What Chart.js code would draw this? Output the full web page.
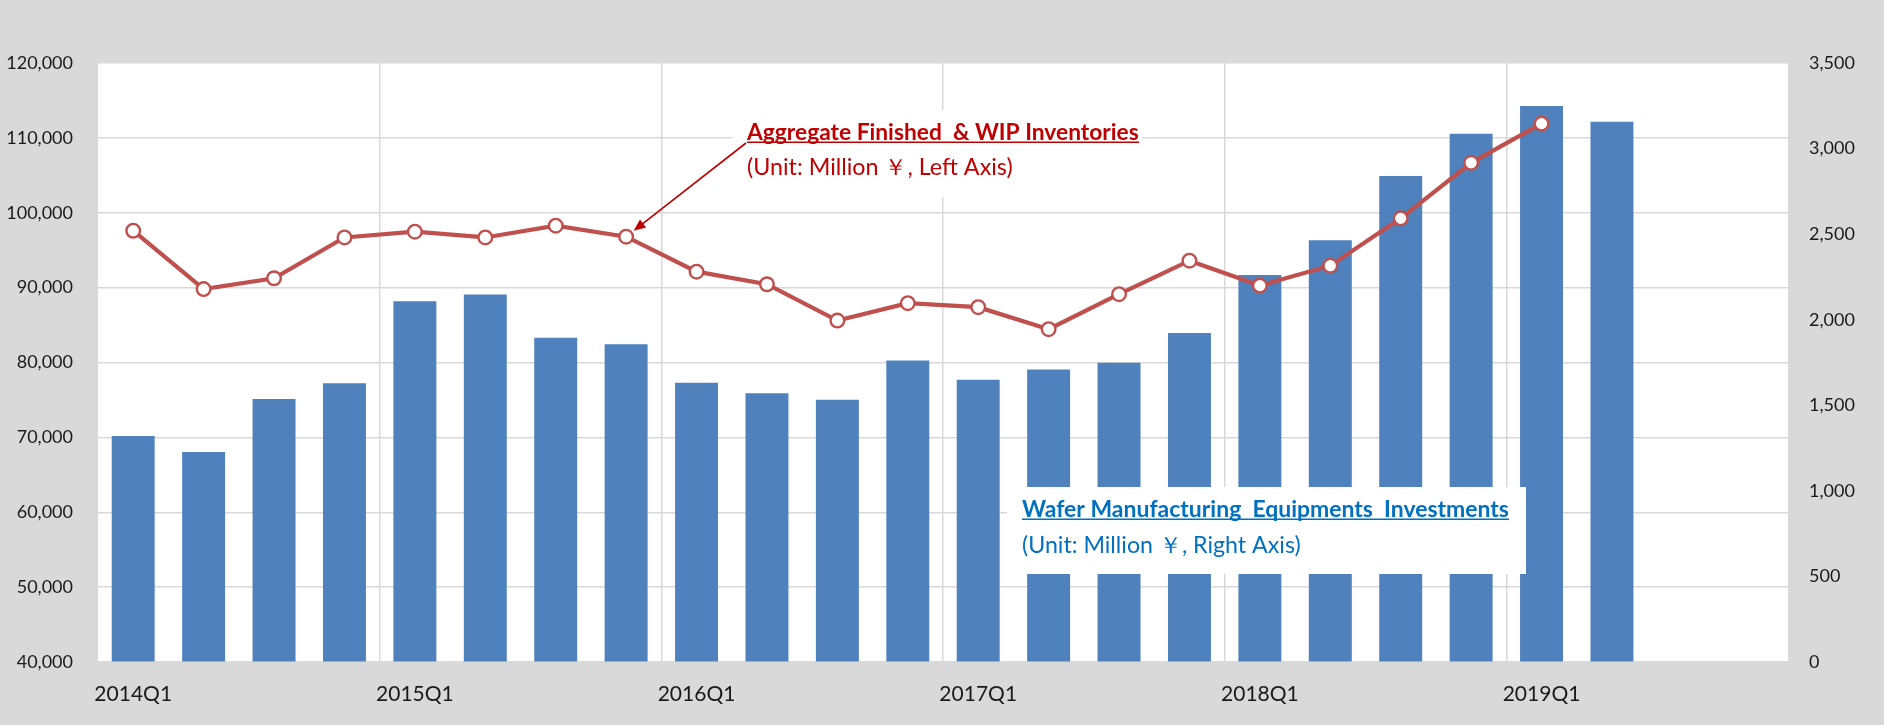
<!DOCTYPE html>
<html>
<head>
<meta charset="utf-8">
<script src="https://cdn.jsdelivr.net/npm/chart.js@4/dist/chart.umd.min.js"></script>
<style>
  html, body { margin: 0; padding: 0; background: #d9d9d9; }
  #wrap { width: 1884px; height: 725px; position: relative; }
</style>
</head>
<body>
<div id="wrap"><canvas id="c"></canvas></div>
<script>
// ---------- DATA ----------
const categories = [
  '2014Q1','2014Q2','2014Q3','2014Q4',
  '2015Q1','2015Q2','2015Q3','2015Q4',
  '2016Q1','2016Q2','2016Q3','2016Q4',
  '2017Q1','2017Q2','2017Q3','2017Q4',
  '2018Q1','2018Q2','2018Q3','2018Q4',
  '2019Q1','2019Q2','2019Q3','2019Q4'
];
// Aggregate Finished & WIP Inventories (Million ¥, left axis)
const inventories = [
  97600, 89800, 91250, 96700,
  97470, 96700, 98270, 96800,
  92130, 90450, 85600, 87920,
  87390, 84450, 89120, 93600,
  90270, 92930, 99250, 106670,
  111900, null, null, null
];
// Wafer Manufacturing Equipments Investments (Million ¥, right axis)
const investments = [
  1320, 1227, 1536, 1629,
  2108, 2147, 1894, 1857,
  1632, 1570, 1533, 1762,
  1649, 1709, 1748, 1922,
  2261, 2464, 2840, 3087,
  3249, 3157, null, null
];
const shownXTicks = ['2014Q1','2015Q1','2016Q1','2017Q1','2018Q1','2019Q1'];
const leftAxisTicks = [40000, 50000, 60000, 70000, 80000, 90000, 100000, 110000, 120000];
const rightAxisTicks = [0, 500, 1000, 1500, 2000, 2500, 3000, 3500];

const note1Title = 'Aggregate Finished  & WIP Inventories';
const note1Sub = '(Unit: Million \uFFE5, Left Axis)';
const note2Title = 'Wafer Manufacturing  Equipments  Investments';
const note2Sub = '(Unit: Million \uFFE5, Right Axis)';

// ---------- STYLE ----------
const FONT = 'Lato, "Open Sans", sans-serif';
const GRID = '#d9d9d9';
const fmt = v => Number(v).toLocaleString('en-US');

const bgPlugin = {
  id: 'bg',
  beforeDraw(chart) {
    const { ctx, chartArea: a } = chart;
    ctx.save();
    ctx.fillStyle = '#d9d9d9';
    ctx.fillRect(0, 0, chart.width, chart.height);
    ctx.fillStyle = '#ffffff';
    ctx.fillRect(a.left, a.top, a.right - a.left, a.bottom - a.top);
    ctx.restore();
  }
};

function fitFont(ctx, text, weight, target) {
  ctx.font = weight + ' 20px ' + FONT;
  const w = ctx.measureText(text).width;
  const size = 20 * target / w;
  ctx.font = weight + ' ' + size.toFixed(2) + 'px ' + FONT;
  return size;
}

function drawNote(ctx, n) {
  ctx.fillStyle = '#ffffff';
  ctx.fillRect(n.box[0], n.box[1], n.box[2] - n.box[0], n.box[3] - n.box[1]);
  ctx.fillStyle = n.color;
  ctx.textAlign = 'left';
  ctx.textBaseline = 'alphabetic';
  fitFont(ctx, n.title, 'bold', n.titleW);
  ctx.fillText(n.title, n.x, n.base1);
  ctx.strokeStyle = n.color;
  ctx.lineWidth = 1.6;
  ctx.beginPath();
  ctx.moveTo(n.x, n.base1 + 2.8);
  ctx.lineTo(n.x + n.titleW, n.base1 + 2.8);
  ctx.stroke();
  fitFont(ctx, n.sub, 'normal', n.subW);
  ctx.fillText(n.sub, n.x, n.base2);
}

const notePlugin = {
  id: 'notes',
  afterDatasetsDraw(chart) {
    const ctx = chart.ctx;
    ctx.save();
    drawNote(ctx, { box: [732, 110, 1142, 197], x: 747, color: '#c00000',
      title: note1Title, titleW: 392, base1: 139.5,
      sub: note1Sub, subW: 266, base2: 175 });
    drawNote(ctx, { box: [1007, 487, 1526, 574], x: 1022, color: '#0070c0',
      title: note2Title, titleW: 487, base1: 516.5,
      sub: note2Sub, subW: 279, base2: 553 });

    // arrow from the first note to the 2015Q4 inventory point
    const meta = chart.getDatasetMeta(0);
    const pt = meta.data[7];
    const sx = 746, sy = 143;
    const dx = pt.x - sx, dy = pt.y - sy;
    const len = Math.hypot(dx, dy);
    const ux = dx / len, uy = dy / len;
    const tx = pt.x - ux * 9.5, ty = pt.y - uy * 9.5;
    ctx.strokeStyle = '#c00000';
    ctx.fillStyle = '#c00000';
    ctx.lineWidth = 1.6;
    ctx.beginPath();
    ctx.moveTo(sx, sy);
    ctx.lineTo(tx - ux * 8, ty - uy * 8);
    ctx.stroke();
    const hl = 12, hw = 5;
    ctx.beginPath();
    ctx.moveTo(tx, ty);
    ctx.lineTo(tx - ux * hl - uy * hw, ty - uy * hl + ux * hw);
    ctx.lineTo(tx - ux * hl + uy * hw, ty - uy * hl - ux * hw);
    ctx.closePath();
    ctx.fill();
    ctx.restore();
  }
};

new Chart(document.getElementById('c'), {
  data: {
    labels: categories,
    datasets: [
      {
        type: 'line',
        label: 'Aggregate Finished & WIP Inventories',
        data: inventories,
        yAxisID: 'yL',
        order: 0,
        borderColor: '#c0504d',
        borderWidth: 4.2,
        tension: 0,
        pointRadius: 6.8,
        pointBorderWidth: 2.4,
        pointBackgroundColor: '#ffffff',
        pointBorderColor: '#c0504d',
        spanGaps: false
      },
      {
        type: 'bar',
        label: 'Wafer Manufacturing Equipments Investments',
        data: investments,
        yAxisID: 'yR',
        order: 1,
        backgroundColor: '#4f81bd',
        barPercentage: 0.61,
        categoryPercentage: 1.0
      }
    ]
  },
  options: {
    responsive: true,
    maintainAspectRatio: false,
    animation: false,
    layout: { padding: { top: 63, bottom: 0, left: 0, right: 0 } },
    plugins: { legend: { display: false }, tooltip: { enabled: false } },
    scales: {
      x: {
        type: 'category',
        offset: true,
        grid: {
          offset: true,
          drawTicks: false,
          lineWidth: 1.5,
          color: c => (c.index > 0 && shownXTicks.includes(categories[c.index])) ? GRID : 'rgba(0,0,0,0)'
        },
        border: { display: false },
        ticks: {
          autoSkip: false,
          maxRotation: 0,
          padding: 20,
          color: '#1a1a1a',
          font: { family: FONT, size: 21 },
          callback: function (v, i) {
            const l = categories[i];
            return shownXTicks.includes(l) ? l : '';
          }
        },
        afterFit: s => { s.height = 63; }
      },
      yL: {
        type: 'linear',
        position: 'left',
        min: leftAxisTicks[0],
        max: leftAxisTicks[leftAxisTicks.length - 1],
        afterBuildTicks: s => { s.ticks = leftAxisTicks.map(v => ({ value: v })); },
        grid: { color: GRID, lineWidth: 1.5, drawTicks: false },
        border: { display: false },
        ticks: {
          padding: 25,
          color: '#1a1a1a',
          font: { family: FONT, size: 18 },
          callback: v => fmt(v)
        },
        afterFit: s => { s.width = 98; }
      },
      yR: {
        type: 'linear',
        position: 'right',
        min: rightAxisTicks[0],
        max: rightAxisTicks[rightAxisTicks.length - 1],
        afterBuildTicks: s => { s.ticks = rightAxisTicks.map(v => ({ value: v })); },
        grid: { drawOnChartArea: false, drawTicks: false },
        border: { display: false },
        ticks: {
          padding: 21,
          color: '#1a1a1a',
          font: { family: FONT, size: 18 },
          callback: v => fmt(v)
        },
        afterFit: s => { s.width = 96; }
      }
    }
  },
  plugins: [bgPlugin, notePlugin]
});
</script>
</body>
</html>
